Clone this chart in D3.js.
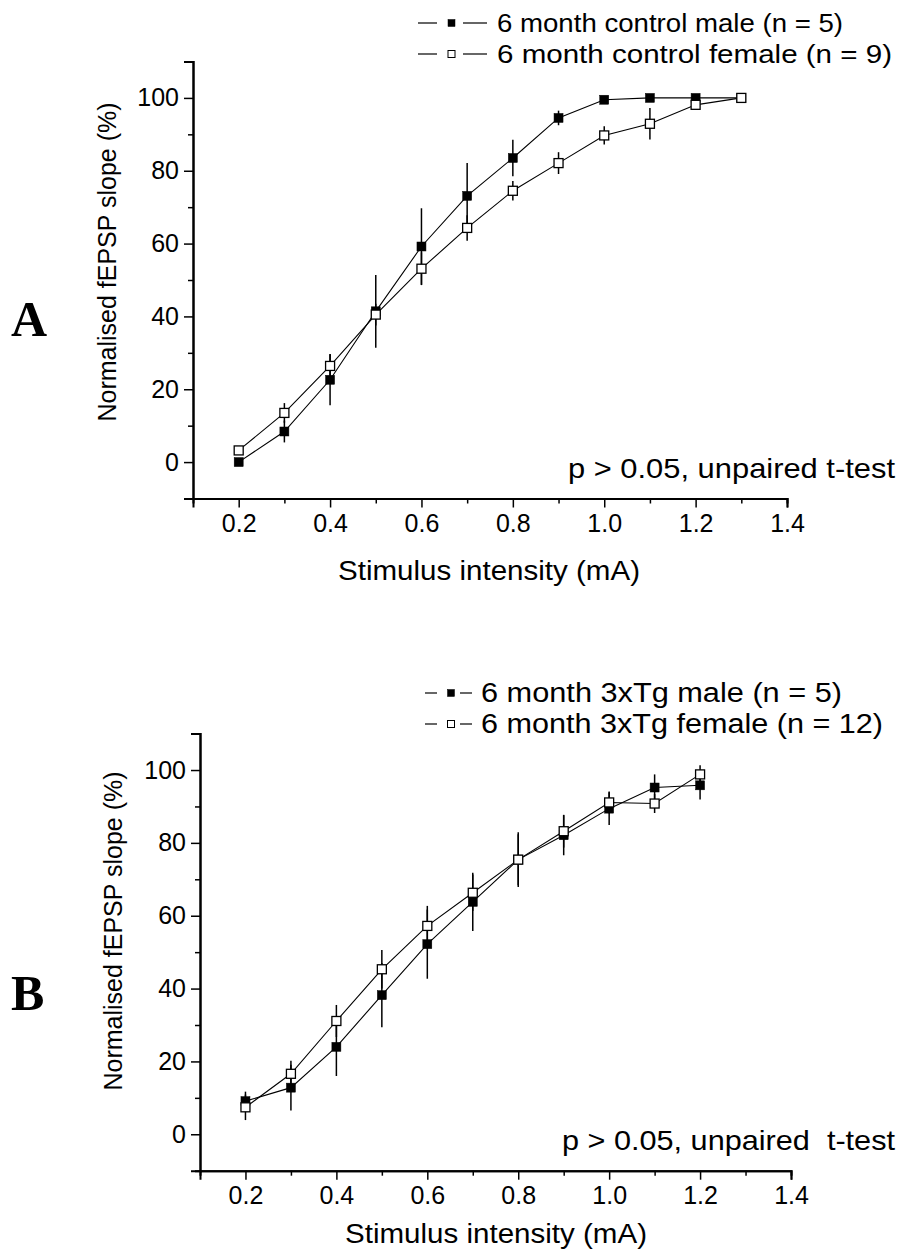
<!DOCTYPE html>
<html>
<head>
<meta charset="utf-8">
<script src="https://cdn.jsdelivr.net/npm/d3@7"></script>
<style>
  body { margin: 0; background: #fff; }
  svg text { font-family: "Liberation Sans", Arial, sans-serif; fill: #000; }
</style>
</head>
<body>
<div id="chart"></div>
<script>
// stimulus intensities (mA)
var intensityA = [0.2, 0.3, 0.4, 0.5, 0.6, 0.7, 0.8, 0.9, 1.0, 1.1, 1.2, 1.3];
var intensityB = [0.2, 0.3, 0.4, 0.5, 0.6, 0.7, 0.8, 0.9, 1.0, 1.1, 1.2];

// panel A: 6 month control
var controlMale = [0, 8.4, 22.6, 41.4, 59.2, 73.1, 83.5, 94.5, 99.5, 100, 100, 100];
var controlMaleErr = [0.5, 3, 7, 10, 10.5, 9, 5, 2, 1, 0.5, 0.5, 0];
var controlFemale = [3.2, 13.5, 26.4, 40.5, 53.1, 64.3, 74.5, 82.1, 89.7, 92.9, 98.1, 100];
var controlFemaleErr = [1, 2.7, 3.3, 3, 4.5, 3.5, 2.7, 3, 2.5, 4.3, 1, 0];

// panel B: 6 month 3xTg
var tgMale = [9.1, 12.8, 24, 38.2, 52.2, 63.8, 75.4, 82.1, 89.4, 95.2, 95.8];
var tgMaleErr = [2.6, 6.3, 8, 8.8, 9.5, 8, 7.5, 5.5, 4.5, 3.6, 3.9];
var tgFemale = [7.4, 16.6, 31.1, 45.3, 57.2, 66.3, 75.4, 83.2, 91.1, 90.8, 98.8];
var tgFemaleErr = [3.5, 3.6, 4.4, 5.3, 5.5, 5, 7, 4.5, 3, 2.6, 2.5];

// tick values
var xMajor = [0.2, 0.4, 0.6, 0.8, 1.0, 1.2, 1.4];
var xMinor = [0.3, 0.5, 0.7, 0.9, 1.1, 1.3];
var yMajor = [0, 20, 40, 60, 80, 100];
var yMinor = [10, 30, 50, 70, 90];

var yTitle = "Normalised fEPSP slope (%)";
var xTitle = "Stimulus intensity (mA)";

var width = 907, height = 1250;

var svg = d3.select("#chart")
    .append("svg")
    .attr("width", width)
    .attr("height", height);

function drawPanel(cfg) {
    var g = svg.append("g");

    var xScale = d3.scaleLinear().domain([0.1, 1.4]).range([cfg.left, cfg.right]);
    var yScale = d3.scaleLinear().domain([-10, 110]).range([cfg.bottom, cfg.top]);

    // major + minor ticks
    var yAxis = d3.axisLeft(yScale).tickValues(yMajor).tickSize(9).tickPadding(5)
        .tickFormat(d3.format("d"));
    var yAxisMinor = d3.axisLeft(yScale).tickValues(yMinor).tickSize(5).tickFormat("");
    var xAxis = d3.axisBottom(xScale).tickValues(xMajor).tickSize(9).tickPadding(7)
        .tickFormat(d3.format(".1f"));
    var xAxisMinor = d3.axisBottom(xScale).tickValues(xMinor).tickSize(5).tickFormat("");

    g.append("g").attr("transform", "translate(" + cfg.left + ",0)").call(yAxis);
    g.append("g").attr("transform", "translate(" + cfg.left + ",0)").call(yAxisMinor);
    g.append("g").attr("transform", "translate(0," + cfg.bottom + ")").call(xAxis);
    g.append("g").attr("transform", "translate(0," + cfg.bottom + ")").call(xAxisMinor);

    g.selectAll(".domain").attr("stroke", "#000").attr("stroke-width", 2);
    g.selectAll(".tick line").attr("stroke", "#000").attr("stroke-width", 1.5);
    g.selectAll(".tick text")
        .style("font-family", '"Liberation Sans", Arial, sans-serif')
        .attr("font-size", 25)
        .attr("fill", "#000");

    // axis titles
    g.append("text")
        .attr("transform", "translate(" + cfg.yTitleX + "," + cfg.yTitleY + ")rotate(-90)")
        .attr("text-anchor", "middle")
        .attr("font-size", 25)
        .text(yTitle);

    g.append("text")
        .attr("x", cfg.xTitleX)
        .attr("y", cfg.xTitleY)
        .attr("font-size", 27)
        .attr("textLength", 302)
        .attr("lengthAdjust", "spacingAndGlyphs")
        .text(xTitle);

    // p-value note
    g.append("text")
        .attr("x", cfg.noteX)
        .attr("y", cfg.bottom - 21)
        .attr("font-size", 28)
        .attr("textLength", cfg.noteLen)
        .attr("lengthAdjust", "spacingAndGlyphs")
        .style("white-space", "pre")
        .text(cfg.note);

    // panel letter
    g.append("text")
        .attr("x", 11)
        .attr("y", cfg.letterY)
        .style("font-family", '"Liberation Serif", "Times New Roman", serif')
        .attr("font-weight", "bold")
        .attr("font-size", 50)
        .text(cfg.letter);

    var line = d3.line()
        .x(function(d) { return xScale(d.x); })
        .y(function(d) { return yScale(d.y); });

    var ms = 9;

    cfg.series.forEach(function(s) {
        var pts = s.x.map(function(x, i) {
            return { x: x, y: s.y[i], e: s.err[i] };
        });

        g.append("path")
            .datum(pts)
            .attr("d", line)
            .attr("fill", "none")
            .attr("stroke", "#000")
            .attr("stroke-width", 1.1);

        g.selectAll(null)
            .data(pts)
            .enter()
            .append("line")
            .attr("x1", function(d) { return xScale(d.x); })
            .attr("x2", function(d) { return xScale(d.x); })
            .attr("y1", function(d) { return yScale(d.y - d.e); })
            .attr("y2", function(d) { return yScale(d.y + d.e); })
            .attr("stroke", "#000")
            .attr("stroke-width", 1.5);

        g.selectAll(null)
            .data(pts)
            .enter()
            .append("rect")
            .attr("x", function(d) { return xScale(d.x) - ms / 2; })
            .attr("y", function(d) { return yScale(d.y) - ms / 2; })
            .attr("width", ms)
            .attr("height", ms)
            .attr("fill", s.filled ? "#000" : "#fff")
            .attr("stroke", "#000")
            .attr("stroke-width", s.filled ? 0.5 : 1.3);
    });

    // legend: line - square - line, then label
    var lgd = cfg.legend;
    cfg.series.forEach(function(s, i) {
        var ly = lgd.y + i * 31;
        var lg = g.append("g");
        lg.append("line")
            .attr("x1", lgd.x).attr("x2", lgd.x + lgd.s1)
            .attr("y1", ly).attr("y2", ly)
            .attr("stroke", "#000").attr("stroke-width", 1.2);
        lg.append("rect")
            .attr("x", lgd.c - 3.5).attr("y", ly - 3.5)
            .attr("width", 7).attr("height", 7)
            .attr("fill", s.filled ? "#000" : "#fff")
            .attr("stroke", "#000").attr("stroke-width", s.filled ? 0.5 : 1);
        lg.append("line")
            .attr("x1", lgd.c + lgd.gap).attr("x2", lgd.c + lgd.gap + lgd.s2)
            .attr("y1", ly).attr("y2", ly)
            .attr("stroke", "#000").attr("stroke-width", 1.2);
        lg.append("text")
            .attr("x", lgd.textX)
            .attr("y", ly + 9)
            .attr("font-size", lgd.fontSize)
            .attr("textLength", s.labelLen)
            .attr("lengthAdjust", "spacingAndGlyphs")
            .text(s.label);
    });
}

drawPanel({
    left: 193, right: 787, top: 61.5, bottom: 498.5,
    yTitleX: 116, yTitleY: 262, xTitleX: 338, xTitleY: 580,
    note: "p > 0.05, unpaired t-test", noteX: 568, noteLen: 327,
    letter: "A", letterY: 336,
    legend: { x: 418, y: 23, s1: 19, c: 451.5, gap: 11.5, s2: 24, textX: 497, fontSize: 26 },
    series: [
        { x: intensityA, y: controlMale, err: controlMaleErr, filled: true,
          label: "6 month control male (n = 5)", labelLen: 346 },
        { x: intensityA, y: controlFemale, err: controlFemaleErr, filled: false,
          label: "6 month control female (n = 9)", labelLen: 395 }
    ]
});

drawPanel({
    left: 200, right: 791, top: 733.6, bottom: 1170.7,
    yTitleX: 122, yTitleY: 931, xTitleX: 345, xTitleY: 1243,
    note: "p > 0.05, unpaired  t-test", noteX: 562, noteLen: 333,
    letter: "B", letterY: 1010,
    legend: { x: 425, y: 693, s1: 12, c: 451, gap: 9, s2: 12, textX: 481, fontSize: 27 },
    series: [
        { x: intensityB, y: tgMale, err: tgMaleErr, filled: true,
          label: "6 month 3xTg male (n = 5)", labelLen: 361 },
        { x: intensityB, y: tgFemale, err: tgFemaleErr, filled: false,
          label: "6 month 3xTg female (n = 12)", labelLen: 402 }
    ]
});
</script>
</body>
</html>
